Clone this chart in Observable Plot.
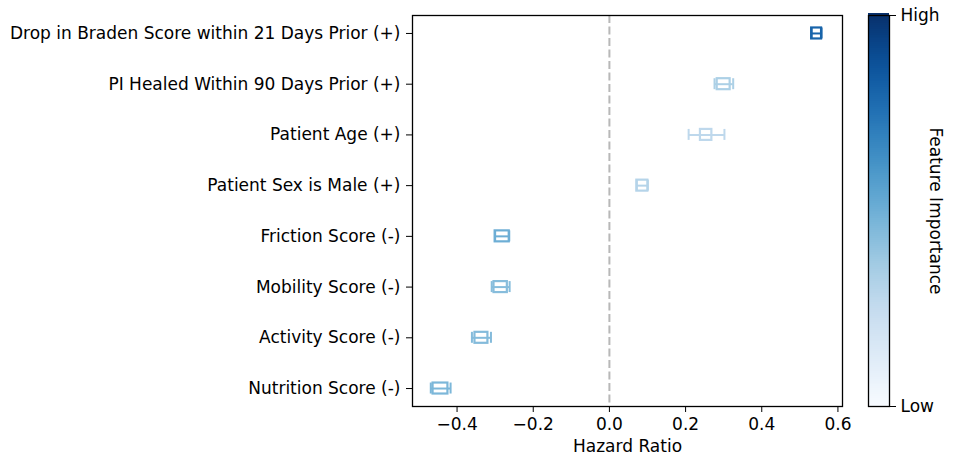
<!DOCTYPE html>
<html>
<head>
<meta charset="utf-8">
<script src="https://cdn.jsdelivr.net/npm/d3@7"></script>
<script src="https://cdn.jsdelivr.net/npm/@observablehq/plot@0.6"></script>
<style>
  body { margin: 0; background: #fff; }
  #wrap { position: relative; width: 954px; height: 460px; }
  #wrap svg { position: absolute; top: 0; }
</style>
</head>
<body>
<div id="wrap"></div>
<script>
const features = [
  "Drop in Braden Score within 21 Days Prior (+)",
  "PI Healed Within 90 Days Prior (+)",
  "Patient Age (+)",
  "Patient Sex is Male (+)",
  "Friction Score (-)",
  "Mobility Score (-)",
  "Activity Score (-)",
  "Nutrition Score (-)"
];
const whiskerLow  = [0.531, 0.276, 0.208, 0.072, -0.300, -0.309, -0.361, -0.469];
const boxLow      = [0.531, 0.283, 0.239, 0.072, -0.300, -0.303, -0.353, -0.463];
const center      = [0.543, 0.299, 0.254, 0.086, -0.282, -0.286, -0.336, -0.443];
const boxHigh     = [0.557, 0.317, 0.269, 0.101, -0.263, -0.268, -0.319, -0.424];
const whiskerHigh = [0.557, 0.325, 0.302, 0.101, -0.263, -0.262, -0.311, -0.417];
const importance  = [0.80, 0.33, 0.27, 0.30, 0.50, 0.43, 0.44, 0.46];
const xTicks = [-0.4, -0.2, 0.0, 0.2, 0.4, 0.6];

const rows = features.map((f, i) => ({
  f, wl: whiskerLow[i], bl: boxLow[i], c: center[i], bh: boxHigh[i], wh: whiskerHigh[i], imp: importance[i]
}));

const font = "DejaVu Sans, sans-serif";
const colorScale = {type: "linear", scheme: "blues", domain: [0, 1]};

const main = Plot.plot({
  width: 954,
  height: 460,
  marginLeft: 412,
  marginRight: 112,
  marginTop: 15,
  marginBottom: 54,
  style: {fontFamily: font, fontSize: "17px", color: "#000", background: "transparent", overflow: "visible"},
  x: {domain: [-0.517, 0.612], ticks: xTicks, tickFormat: d => d.toFixed(1).replace("-", "\u2212"), label: null, tickSize: 6, tickPadding: 5},
  y: {type: "band", domain: features, round: false, paddingInner: 0.7835, paddingOuter: 0.246, label: null, tickSize: 6, tickPadding: 6},
  color: colorScale,
  marks: [
    Plot.ruleX([0], {stroke: "#b8b8b8", strokeWidth: 2, strokeDasharray: "8,3.5"}),
    Plot.ruleY(rows, {y: "f", x1: "wl", x2: "wh", stroke: "imp", strokeWidth: 2}),
    Plot.tickX(rows, {y: "f", x: "wl", stroke: "imp", strokeWidth: 2}),
    Plot.tickX(rows, {y: "f", x: "wh", stroke: "imp", strokeWidth: 2}),
    Plot.barX(rows, {y: "f", x1: "bl", x2: "bh", fill: "none", stroke: "imp", strokeWidth: 2.2}),
    Plot.frame({stroke: "#000", strokeWidth: 1.3}),
    Plot.text(["Hazard Ratio"], {frameAnchor: "bottom", dy: 45, fill: "#000", fontSize: 17})
  ]
});

const steps = d3.range(0, 1, 0.005).map(v => ({v0: v, v1: v + 0.005}));
const bar = Plot.plot({
  width: 86,
  height: 460,
  marginLeft: 0,
  marginRight: 65,
  marginTop: 15,
  marginBottom: 54,
  style: {fontFamily: font, fontSize: "17px", color: "#000", background: "transparent", overflow: "visible"},
  x: {domain: [0, 1], axis: null},
  y: {domain: [0, 1], ticks: [0, 1], tickFormat: d => d === 1 ? "High" : "Low", axis: "right", label: null, tickSize: 6, tickPadding: 5},
  color: colorScale,
  marks: [
    Plot.rect(steps, {x1: 0, x2: 1, y1: "v0", y2: d => d.v1 + 0.004, fill: "v0", shapeRendering: "crispEdges"}),
    Plot.frame({stroke: "#000", strokeWidth: 1.3}),
    Plot.text(["Feature Importance"], {frameAnchor: "right", dx: 46, rotate: 90, textAnchor: "middle", fill: "#000", fontSize: 17})
  ]
});

const wrap = document.getElementById("wrap");
main.style.left = "0px";
bar.style.left = "868px";
wrap.appendChild(main);
wrap.appendChild(bar);
</script>
</body>
</html>
